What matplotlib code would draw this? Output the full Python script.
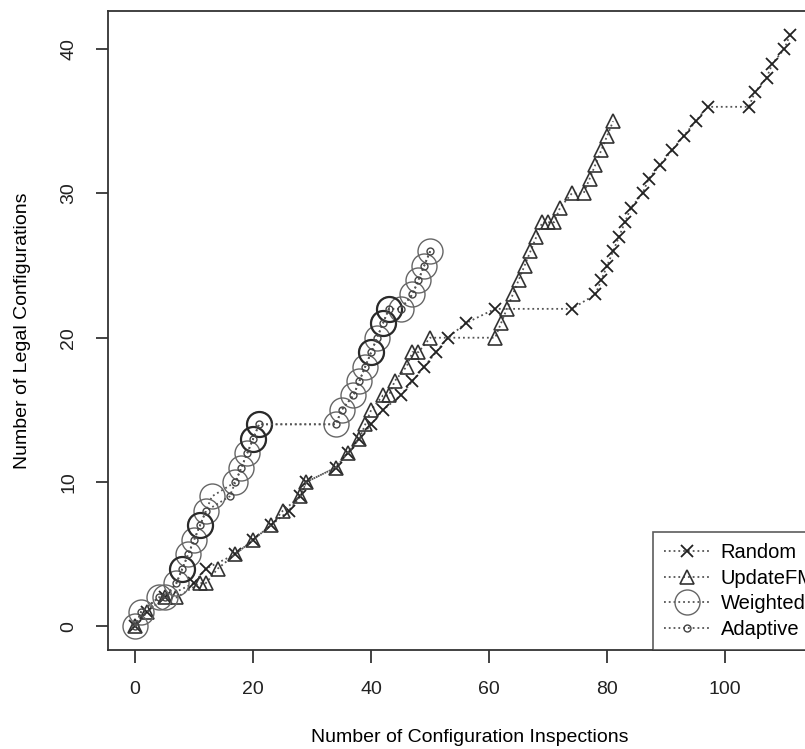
import numpy as np
import matplotlib
matplotlib.use("Agg")
import matplotlib.pyplot as plt

plt.rcParams['font.family'] = ['Liberation Sans', 'DejaVu Sans']

# data
random_x = [0, 2, 5, 10, 12, 17, 20, 23, 26, 28, 29, 34, 36, 38, 40, 42, 45, 47, 49, 51,
            53, 56, 61, 74, 78, 79, 80, 81, 82, 83, 84, 86, 87, 89, 91, 93, 95, 97,
            104, 105, 107, 108, 110, 111]
random_y = [0, 1, 2, 3, 4, 5, 6, 7, 8, 9, 10, 11, 12, 13, 14, 15, 16, 17, 18, 19,
            20, 21, 22, 22, 23, 24, 25, 26, 27, 28, 29, 30, 31, 32, 33, 34, 35, 36,
            36, 37, 38, 39, 40, 41]

update_x = [0, 2, 5, 7, 11, 12, 14, 17, 20, 23, 25, 28, 29, 34, 36, 38, 39, 40, 42, 43,
            44, 46, 47, 48, 50, 61, 62, 63, 64, 65, 66, 67, 68, 69, 70, 71, 72, 74,
            76, 77, 78, 79, 80, 81]
update_y = [0, 1, 2, 2, 3, 3, 4, 5, 6, 7, 8, 9, 10, 11, 12, 13, 14, 15, 16, 16,
            17, 18, 19, 19, 20, 20, 21, 22, 23, 24, 25, 26, 27, 28, 28, 28, 29, 30,
            30, 31, 32, 33, 34, 35]

weighted_x = [0, 1, 4, 5, 7, 8, 9, 10, 11, 12, 13, 17, 18, 19, 20, 21, 34, 35, 37, 38,
              39, 40, 41, 42, 43, 45, 47, 48, 49, 50]
weighted_y = [0, 1, 2, 2, 3, 4, 5, 6, 7, 8, 9, 10, 11, 12, 13, 14, 14, 15, 16, 17,
              18, 19, 20, 21, 22, 22, 23, 24, 25, 26]
# points drawn more than once (darker rings)
weighted_bold_x = [8, 11, 20, 21, 40, 42, 43]
weighted_bold_y = [4, 7, 13, 14, 19, 21, 22]

adaptive_x = [0, 1, 4, 5, 7, 8, 9, 10, 11, 12, 16, 17, 18, 19, 20, 21, 34, 35, 37, 38,
              39, 40, 41, 42, 43, 45, 47, 48, 49, 50]
adaptive_y = [0, 1, 2, 2, 3, 4, 5, 6, 7, 8, 9, 10, 11, 12, 13, 14, 14, 15, 16, 17,
              18, 19, 20, 21, 22, 22, 23, 24, 25, 26]

fig = plt.figure(figsize=(8.05, 7.49), dpi=100)
ax = fig.add_axes([108/805, 99/749, 714/805, 639/749])

lc = '#555555'
ax.plot(random_x, random_y, ls=':', lw=1.3, color=lc, marker='x', ms=9,
        mew=1.3, mec='#222222', label='Random')
ax.plot(update_x, update_y, ls=':', lw=1.3, color=lc, marker='^', ms=10,
        mew=1.2, mec='#333333', mfc='none', label='UpdateFM')
ax.plot(weighted_x, weighted_y, ls=':', lw=1.3, color=lc, marker='o', ms=18,
        mew=1.0, mec='#666666', mfc='none', label='Weighted')
ax.plot(weighted_bold_x, weighted_bold_y, ls='none', marker='o', ms=18,
        mew=1.6, mec='#2a2a2a', mfc='none')
ax.plot(adaptive_x, adaptive_y, ls=':', lw=1.3, color=lc, marker='o', ms=5,
        mew=1.0, mec='#444444', mfc='none', label='Adaptive')

ax.set_xlim(-4.6, 116.4)
ax.set_ylim(-1.64, 42.64)
ax.set_xticks([0, 20, 40, 60, 80, 100])
ax.set_yticks([0, 10, 20, 30, 40])
ax.tick_params(axis='both', labelsize=14, length=9, width=1.2, pad=13, colors='#222222')
for lab in ax.get_yticklabels():
    lab.set_rotation(90)
    lab.set_va('center')
for sp in ax.spines.values():
    sp.set_color('#333333')
    sp.set_linewidth(1.3)

ax.set_xlabel('Number of Configuration Inspections', fontsize=14)
ax.set_ylabel('Number of Legal Configurations', fontsize=14)
ax.xaxis.set_label_coords((470 - 108) / 714, -(729 - 650) / 639)
ax.yaxis.set_label_coords(-(108 - 31) / 714, 0.5)

leg = ax.legend(loc='lower left', bbox_to_anchor=((653 - 108) / 714, 0), borderaxespad=0,
                fontsize=14.5, frameon=True, fancybox=False, handlelength=2.3,
                labelspacing=0.33, handletextpad=0.5, borderpad=0.55)
leg.get_frame().set_edgecolor('#333333')
leg.get_frame().set_linewidth(1.2)

fig.savefig('out.png', dpi=100)
